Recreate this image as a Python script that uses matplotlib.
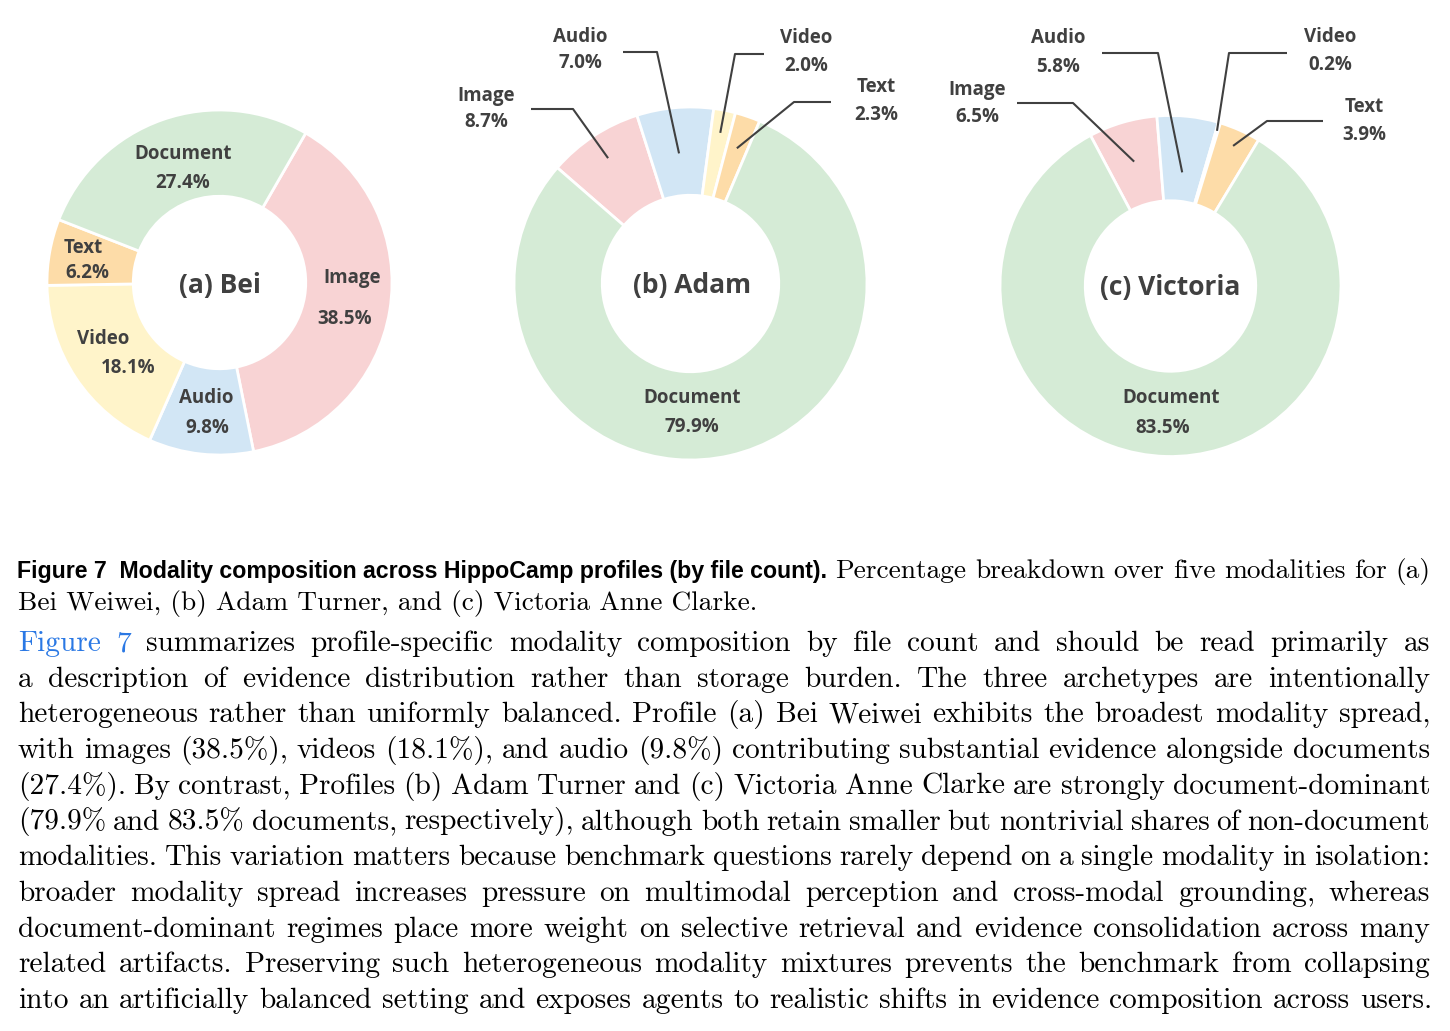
import numpy as np
import matplotlib
matplotlib.use('Agg')
import matplotlib.pyplot as plt
from matplotlib import font_manager

W, H = 1450, 1031

# data
modalities = ['Image', 'Audio', 'Video', 'Text', 'Document']
bei = [38.5, 9.8, 18.1, 6.2, 27.4]
adam = [8.7, 7.0, 2.0, 2.3, 79.9]
victoria = [6.5, 5.8, 0.2, 3.9, 83.5]
titles = ['(a) Bei', '(b) Adam', '(c) Victoria']

colors = ['#F8D3D4', '#D2E6F5', '#FFF4CA', '#FDDCA8', '#D5EBD6']
label_color = '#404040'

caption_bold = 'Figure 7  Modality composition across HippoCamp profiles (by file count).'
caption_rest = 'Percentage breakdown over five modalities for (a)'
caption_line2 = 'Bei Weiwei, (b) Adam Turner, and (c) Victoria Anne Clarke.'
body_lines = [
    'Figure 7 summarizes profile-specific modality composition by file count and should be read primarily as',
    'a description of evidence distribution rather than storage burden. The three archetypes are intentionally',
    'heterogeneous rather than uniformly balanced. Profile (a) Bei Weiwei exhibits the broadest modality spread,',
    'with images (38.5%), videos (18.1%), and audio (9.8%) contributing substantial evidence alongside documents',
    '(27.4%). By contrast, Profiles (b) Adam Turner and (c) Victoria Anne Clarke are strongly document-dominant',
    '(79.9% and 83.5% documents, respectively), although both retain smaller but nontrivial shares of non-document',
    'modalities. This variation matters because benchmark questions rarely depend on a single modality in isolation:',
    'broader modality spread increases pressure on multimodal perception and cross-modal grounding, whereas',
    'document-dominant regimes place more weight on selective retrieval and evidence consolidation across many',
    'related artifacts. Preserving such heterogeneous modality mixtures prevents the benchmark from collapsing',
    'into an artificially balanced setting and exposes agents to realistic shifts in evidence composition across users.',
]

# layout (reference pixel coords, y down)
donuts = [
    dict(values=bei, center=(219.5, 282.5), r=172.5, start=60,
         names=[(352, 278), (206, 398), (103, 339), (83, 248), (183, 154)],
         pcts=[(345, 319), (207, 428), (128, 368), (87, 273), (183, 183)],
         leaders={}),
    dict(values=adam, center=(690.5, 283.5), r=176.5, start=139,
         names=[(486, 96), (580, 37), (806, 38), (876, 87), (692, 398)],
         pcts=[(486, 122), (580, 63), (806, 66), (876, 115), (692, 427)],
         leaders={0: (0.85, (573, 109), (531, 109)),
                  1: (0.74, (657, 52), (623, 52)),
                  2: (0.87, (735, 54), (764, 54)),
                  3: (0.81, (794, 102), (831, 102))}),
    dict(values=victoria, center=(1170.5, 286), r=170.5, start=118,
         names=[(977, 90), (1058, 38), (1330, 37), (1364, 107), (1171, 398)],
         pcts=[(977, 117), (1058, 67), (1330, 65), (1364, 135), (1163, 428)],
         leaders={0: (0.76, (1073, 103), (1017, 103)),
                  1: (0.67, (1158, 53), (1102, 53)),
                  2: (0.95, (1229, 53), (1287, 53)),
                  3: (0.90, (1267, 121), (1323, 121))}),
]
title_pos = [(220, 286), (692, 286), (1170, 287)]

fig = plt.figure(figsize=(W / 100, H / 100), dpi=100)
ax = fig.add_axes([0, 0, 1, 1])
renderer = fig.canvas.get_renderer()

lab_font = 'Open Sans'
for d, title, tp in zip(donuts, titles, title_pos):
    cx, cy = d['center']
    wedges, _ = ax.pie(d['values'], colors=colors, startangle=d['start'],
                       counterclock=False, radius=d['r'], center=(cx, H - cy),
                       wedgeprops=dict(width=d['r'] * 0.5, edgecolor='white',
                                       linewidth=2))
    for i, (name, v) in enumerate(zip(modalities, d['values'])):
        nx, ny = d['names'][i]
        px, py = d['pcts'][i]
        ax.text(nx, H - ny, name, ha='center', va='center', fontsize=13.5,
                fontweight='bold', family=lab_font, color=label_color)
        ax.text(px, H - py, f'{v:.1f}%', ha='center', va='center', fontsize=13.5,
                fontweight='bold', family=lab_font, color=label_color)
        if i in d['leaders']:
            frac, elbow, end = d['leaders'][i]
            w = wedges[i]
            ang = np.deg2rad((w.theta1 + w.theta2) / 2)
            tx = w.center[0] + w.r * frac * np.cos(ang)
            ty = w.center[1] + w.r * frac * np.sin(ang)
            ax.plot([tx, elbow[0], end[0]], [ty, H - elbow[1], H - end[1]],
                    color=label_color, lw=1.5, solid_capstyle='butt')
    ax.text(tp[0], H - tp[1], title, ha='center', va='center', fontsize=19,
            fontweight='bold', family=lab_font, color=label_color)

ax.set_xlim(0, W)
ax.set_ylim(0, H)
ax.set_aspect('auto')
ax.axis('off')

# text block
names = {f.name for f in font_manager.fontManager.ttflist}
cap_font = 'Liberation Sans Narrow' if 'Liberation Sans Narrow' in names else 'Liberation Sans'
X0, X1 = 18, 1430


def width_of(t):
    return t.get_window_extent(renderer).width


def fit_size(text, target, **kw):
    probe = ax.text(0, 0, text, fontsize=20, **kw)
    size = 20 * target / width_of(probe)
    probe.remove()
    return size


cap_serif_size = fit_size(caption_line2, 739, family='cmr10')
cap_size = fit_size(caption_bold, 813, family=cap_font, fontweight='bold')
body_size = fit_size(body_lines[-1], 1414, family='cmr10')

cap_serif = dict(family='cmr10', fontsize=cap_serif_size, color='black')
serif = dict(family='cmr10', fontsize=body_size, color='black')


def set_line(words, y, x0=X0, x1=X1):
    arts = [ax.text(0, H - y, w, va='baseline', ha='left', **kw) for w, kw in words]
    widths = [width_of(a) for a in arts]
    gap = (x1 - x0 - sum(widths)) / (len(arts) - 1)
    x = x0
    for a, w in zip(arts, widths):
        a.set_x(x)
        x += w + gap


# caption
words = [(caption_bold, dict(family=cap_font, fontweight='bold', fontsize=cap_size))]
words += [(w, cap_serif) for w in caption_rest.split()]
set_line(words, 578, x0=17)
ax.text(X0, H - 610, caption_line2, va='baseline', ha='left', **cap_serif)

# body paragraph
link = dict(serif, color='#2a78e4')
for i, line in enumerate(body_lines):
    words = [(w, link if (i == 0 and j < 2) else serif)
             for j, w in enumerate(line.split())]
    set_line(words, 651 + 35.7 * i, x1=X1 + (2 if i == len(body_lines) - 1 else 0))

fig.savefig('out.png', dpi=100, facecolor='white')
